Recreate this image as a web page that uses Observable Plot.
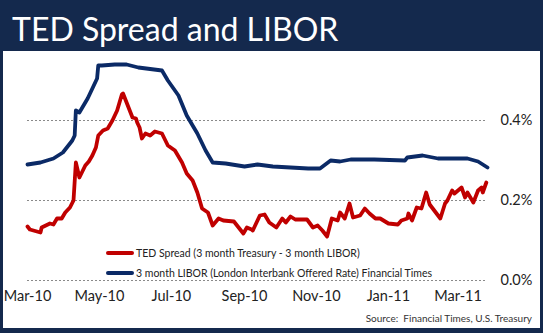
<!DOCTYPE html>
<html>
<head>
<meta charset="utf-8">
<script src="https://cdn.jsdelivr.net/npm/d3@7"></script>
<script src="https://cdn.jsdelivr.net/npm/@observablehq/plot@0.6"></script>
<style>
  html, body { margin: 0; padding: 0; }
  body { width: 543px; height: 333px; background: #14294d; position: relative; overflow: hidden; font-family: Lato, "Open Sans", sans-serif; }
  #title { position: absolute; left: 12px; top: 13px; color: #fff; font-size: 32px; line-height: 32px; white-space: nowrap; }
  #panel { position: absolute; left: 3px; top: 51px; width: 537px; height: 277px; background: #fff; }
  #chart { position: absolute; left: 0; top: 51px; }
  .leg { position: absolute; left: 106px; font-size: 10.5px; color: #222; line-height: 12px; white-space: nowrap; display: flex; align-items: center; }
  .leg i { display: inline-block; width: 28px; height: 4px; margin-right: 2px; border-radius: 2px; }
  #source { position: absolute; right: 11px; top: 312px; font-size: 10px; color: #333; white-space: nowrap; }
</style>
</head>
<body>
<div id="title">TED Spread and LIBOR</div>
<div id="panel"></div>
<div id="chart"></div>
<div class="leg" style="top:247px"><i style="background:#c00000"></i>TED Spread (3 month Treasury - 3 month LIBOR)</div>
<div class="leg" style="top:267px"><i style="background:#0b2a66"></i>3 month LIBOR (London Interbank Offered Rate) Financial Times</div>
<div id="source">Source:&nbsp; Financial Times, U.S. Treasury</div>
<script>
// TED spread (%)
const tedDates = ["2010-03-01","2010-03-03","2010-03-12","2010-03-13","2010-03-20","2010-03-23","2010-03-26","2010-03-30","2010-04-02","2010-04-06","2010-04-09","2010-04-11","2010-04-14","2010-04-19","2010-04-22","2010-04-25","2010-04-28","2010-04-30","2010-05-04","2010-05-08","2010-05-12","2010-05-16","2010-05-20","2010-05-21","2010-05-24","2010-05-29","2010-06-01","2010-06-02","2010-06-04","2010-06-06","2010-06-09","2010-06-13","2010-06-17","2010-06-23","2010-06-28","2010-07-04","2010-07-10","2010-07-14","2010-07-19","2010-07-23","2010-07-27","2010-08-01","2010-08-05","2010-08-10","2010-08-14","2010-08-23","2010-08-31","2010-09-03","2010-09-07","2010-09-08","2010-09-14","2010-09-18","2010-09-22","2010-09-28","2010-10-03","2010-10-06","2010-10-10","2010-10-14","2010-10-24","2010-10-29","2010-11-02","2010-11-06","2010-11-10","2010-11-14","2010-11-19","2010-11-21","2010-11-25","2010-11-29","2010-12-02","2010-12-08","2010-12-12","2010-12-16","2010-12-21","2010-12-25","2011-01-01","2011-01-09","2011-01-12","2011-01-17","2011-01-18","2011-01-21","2011-01-25","2011-01-29","2011-02-02","2011-02-05","2011-02-14","2011-02-18","2011-02-20","2011-02-24","2011-02-26","2011-03-04","2011-03-07","2011-03-09","2011-03-14","2011-03-18","2011-03-21","2011-03-22","2011-03-25"];
const tedValues = [0.135,0.1275,0.12,0.1325,0.1425,0.14,0.155,0.155,0.17,0.1825,0.2,0.295,0.2575,0.2875,0.2975,0.3125,0.3325,0.3625,0.375,0.38,0.40,0.425,0.465,0.4675,0.445,0.4075,0.405,0.395,0.3825,0.355,0.3675,0.3625,0.3725,0.3675,0.3375,0.325,0.295,0.2675,0.25,0.22,0.18,0.17,0.1375,0.155,0.15,0.1475,0.1175,0.1325,0.1275,0.125,0.1625,0.165,0.145,0.1325,0.155,0.145,0.16,0.1525,0.1525,0.1325,0.1375,0.125,0.11,0.155,0.15,0.17,0.155,0.1925,0.1575,0.1625,0.18,0.1675,0.155,0.155,0.1425,0.14,0.15,0.155,0.1675,0.15,0.1825,0.18,0.22,0.19,0.155,0.1925,0.2,0.225,0.2175,0.2325,0.2075,0.22,0.195,0.225,0.2325,0.22,0.245];

// 3 month LIBOR (%)
const liborDates = ["2010-03-01","2010-03-12","2010-03-23","2010-03-31","2010-04-08","2010-04-10","2010-04-11","2010-04-14","2010-04-21","2010-04-25","2010-04-29","2010-04-30","2010-05-03","2010-05-14","2010-05-24","2010-06-03","2010-06-23","2010-06-28","2010-07-07","2010-07-14","2010-07-23","2010-07-30","2010-08-05","2010-08-16","2010-09-01","2010-09-12","2010-09-25","2010-10-10","2010-10-25","2010-11-04","2010-11-13","2010-11-21","2010-11-30","2010-12-20","2011-01-15","2011-01-17","2011-01-30","2011-02-12","2011-03-09","2011-03-18","2011-03-26"];
const liborValues = [0.29,0.295,0.305,0.32,0.35,0.3625,0.425,0.42,0.455,0.48,0.505,0.5375,0.5375,0.54,0.54,0.5325,0.525,0.5,0.4625,0.4125,0.3675,0.325,0.295,0.2925,0.285,0.29,0.285,0.2825,0.28,0.28,0.30,0.2975,0.3025,0.3025,0.30,0.3075,0.3125,0.305,0.305,0.2975,0.2825];

const xTicks = ["2010-03-01","2010-05-01","2010-07-01","2010-09-01","2010-11-01","2011-01-01","2011-03-01"];
const yTicks = [0, 0.2, 0.4];

const parse = d3.utcParse("%Y-%m-%d");
const ted = tedDates.map((d, i) => ({date: parse(d), v: tedValues[i]}));
const libor = liborDates.map((d, i) => ({date: parse(d), v: liborValues[i]}));

const chart = Plot.plot({
  width: 543,
  height: 260,
  marginLeft: 27,
  marginRight: 56,
  marginTop: 0,
  marginBottom: 31,
  style: {fontFamily: "Lato, 'Open Sans', sans-serif", background: "transparent", color: "#222"},
  x: {type: "utc", domain: [parse("2010-03-01"), parse("2011-03-26")]},
  y: {domain: [0, 0.4], range: [229, 69]},
  marks: [
    Plot.ruleY(yTicks, {stroke: "#8a8a8a", strokeWidth: 1, strokeDasharray: "2,2"}),
    Plot.axisX(xTicks.map(parse), {tickSize: 0, tickPadding: 10, tickFormat: d3.utcFormat("%b-%y"), fontSize: 14.5, label: null, fill: "#222"}),
    Plot.axisY(yTicks, {anchor: "right", tickSize: 0, tickPadding: 13, tickFormat: d => d.toFixed(1) + "%", fontSize: 14.5, label: null, fill: "#222"}),
    Plot.line(ted, {x: "date", y: "v", stroke: "#c00000", strokeWidth: 3.8, strokeLinejoin: "round"}),
    Plot.line(libor, {x: "date", y: "v", stroke: "#0b2a66", strokeWidth: 3.8, strokeLinejoin: "round"})
  ]
});
document.getElementById("chart").appendChild(chart);
</script>
</body>
</html>
